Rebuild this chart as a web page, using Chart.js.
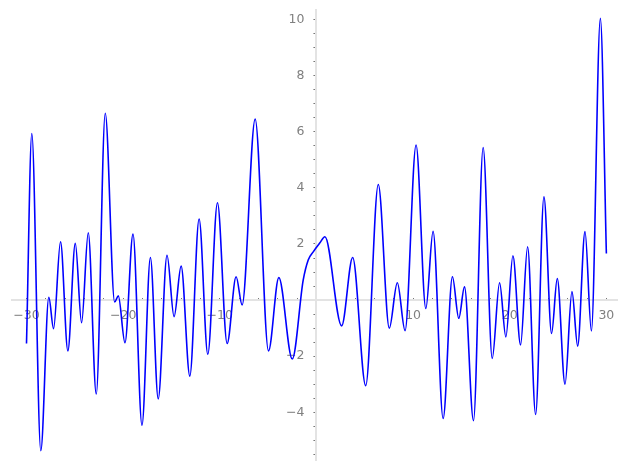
<!DOCTYPE html>
<html>
<head>
<meta charset="utf-8">
<script src="https://cdn.jsdelivr.net/npm/chart.js@4/dist/chart.umd.min.js"></script>
<style>
  html,body{margin:0;padding:0;background:#fff}
  canvas{display:block}
</style>
</head>
<body>
<canvas id="plot" width="627" height="470"></canvas>
<script>
// curve: local extrema plus a few shoulder points
const xs = [-30,-29.45,-28.52,-27.69,-27.2,-26.48,-25.72,-24.95,-24.3,-23.61,-22.78,-21.85,-20.88,-20.5,-19.81,
  -18.98,-18.05,-17.18,-16.37,-15.46,-14.73,-14.0,-13.1,-12.14,-11.24,-10.24,-9.24,-8.31,-7.69,-6.34,-4.96,-3.89,
  -2.5,-1.37,-0.85,-0.33,0.36,0.88,2.61,3.75,5.1,6.4,7.54,8.37,9.17,10.31,11.32,12.07,13.11,14.07,14.73,15.32,
  16.25,17.25,18.19,18.95,19.6,20.33,21.12,21.85,22.68,23.54,24.33,24.92,25.72,26.44,27.03,27.79,28.45,29.38,30];
const ys = [-1.55,5.94,-5.37,0.10,-1.02,2.08,-1.81,2.02,-0.81,2.40,-3.35,6.66,-0.07,0.15,-1.52,
  2.35,-4.46,1.52,-3.52,1.60,-0.59,1.21,-2.71,2.89,-1.93,3.47,-1.55,0.83,-0.17,6.45,-1.81,0.80,
  -2.10,0.71,1.43,1.72,2.04,2.26,-0.92,1.52,-3.05,4.12,-1.00,0.62,-1.09,5.53,-0.30,2.45,-4.22,0.83,-0.65,0.47,
  -4.30,5.44,-2.08,0.62,-1.31,1.58,-1.60,1.90,-4.08,3.68,-1.19,0.77,-3.00,0.30,-1.64,2.44,-1.10,10.04,1.66];

const xRange = [-31.5, 31.1];
const yRange = [-5.7, 10.34];
const xLabelled = [-30,-20,-10,10,20,30];
const yLabelled = [-4,-2,2,4,6,8,10];

const minus = v => String(v).replace('-', '\u2212');

// y axis sits on x = 0; give its box some width so the labels aren't clipped
const yAxisAtZero = {
  id: 'yAxisAtZero',
  afterLayout(chart){
    const px = chart.scales.x.getPixelForValue(0);
    chart.scales.y.left = px - 50;
    chart.scales.y.right = px;
  }
};

const tickFont = {family:'"DejaVu Sans", sans-serif', size:12.5};

new Chart(document.getElementById('plot'), {
  type:'line',
  data:{
    datasets:[{
      data: xs.map((x,i)=>({x, y: ys[i]})),
      borderColor:'#0000ff',
      borderWidth:1.6,
      pointRadius:0,
      fill:false,
      cubicInterpolationMode:'monotone'
    }]
  },
  options:{
    responsive:false,
    animation:false,
    devicePixelRatio:1,
    layout:{padding:{left:12,right:10,top:10,bottom:10}},
    plugins:{legend:{display:false},tooltip:{enabled:false}},
    scales:{
      x:{
        type:'linear',
        position:{y:0},
        min:xRange[0], max:xRange[1],
        afterFit: s => { s.height = 0; s.paddingLeft = 0; s.paddingRight = 0 },
        border:{color:'#e3e3e3', width:2},
        grid:{drawOnChartArea:false, tickLength:-3, tickColor:'#777', tickWidth:1},
        ticks:{
          stepSize:2, includeBounds:false, autoSkip:false, maxRotation:0,
          padding:11, color:'#808080', font:tickFont,
          callback: v => xLabelled.includes(v) ? minus(v) : ''
        }
      },
      y:{
        type:'linear',
        position:'left',
        min:yRange[0], max:yRange[1],
        afterFit: s => { s.width = 0; s.paddingTop = 0; s.paddingBottom = 0 },
        border:{color:'#e3e3e3', width:2},
        grid:{drawOnChartArea:false, tickLength:3, tickColor:'#777', tickWidth:1},
        ticks:{
          stepSize:0.5, includeBounds:false, autoSkip:false,
          padding:9, color:'#808080', font:tickFont,
          callback: v => yLabelled.includes(v) ? minus(v) : ''
        }
      }
    }
  },
  plugins:[yAxisAtZero]
});
</script>
</body>
</html>
